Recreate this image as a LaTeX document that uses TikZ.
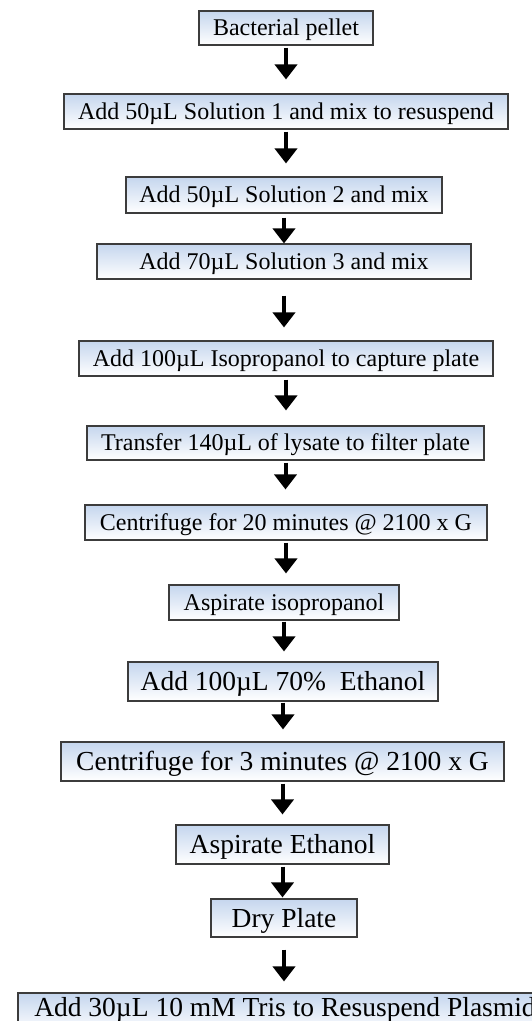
\documentclass[tikz,border=0pt]{standalone}
\usepackage{fontspec}
\setmainfont{Liberation Serif}
\usetikzlibrary{arrows.meta}
\definecolor{boxtop}{RGB}{197,214,238}
\definecolor{boxline}{RGB}{60,60,60}
\tikzset{
  stepbox/.style={draw=boxline, line width=1.1pt, top color=boxtop, bottom color=white,
    inner sep=0pt, text depth=0pt, anchor=center},
  smallbox/.style={stepbox, text height=15.9pt, font=\fontsize{24}{28}\selectfont},
  bigbox/.style={stepbox, text height=18.2pt, font=\fontsize{27.5}{32}\selectfont},
  flow/.style={line width=4pt, -{Triangle[width=22pt,length=15pt]}}
}
\begin{document}
\begin{tikzpicture}[x=1pt,y=1pt]
\useasboundingbox (0,0) rectangle (532,-1021);
\clip (0,0) rectangle (532,-1021);
\node[smallbox, minimum width=174, minimum height=34] (b1) at (286,-28) {Bacterial pellet};
\node[smallbox, minimum width=444, minimum height=35] (b2) at (286,-111.5) {Add 50µL Solution 1 and mix to resuspend};
\node[smallbox, minimum width=316, minimum height=36] (b3) at (284,-195) {Add 50µL Solution 2 and mix};
\node[smallbox, minimum width=374, minimum height=35] (b4) at (284,-261.5) {Add 70µL Solution 3 and mix};
\node[smallbox, minimum width=414, minimum height=35] (b5) at (286,-358.5) {Add 100µL Isopropanol to capture plate};
\node[smallbox, minimum width=397, minimum height=34] (b6) at (285.5,-443) {Transfer 140µL of lysate to filter plate};
\node[smallbox, minimum width=402, minimum height=35] (b7) at (286,-522.5) {Centrifuge for 20 minutes @ 2100 x G};
\node[smallbox, minimum width=230, minimum height=35] (b8) at (284,-602.5) {Aspirate isopropanol};
\node[bigbox, minimum width=310, minimum height=39] (b9) at (283,-681.5) {Add 100µL 70\%\ \ Ethanol};
\node[bigbox, minimum width=443, minimum height=39] (b10) at (282.5,-761.5) {Centrifuge for 3 minutes @ 2100 x G};
\node[bigbox, minimum width=213, minimum height=39] (b11) at (282.5,-844.5) {Aspirate Ethanol};
\node[bigbox, minimum width=146, minimum height=38] (b12) at (284,-918) {Dry Plate};
\node[bigbox, text depth=11pt, minimum width=534, minimum height=39] (b13) at (285,-1012.5) {Add 30µL 10 mM Tris to Resuspend Plasmid};
\draw[flow, shorten <=2pt, shorten >=14pt] (b1.south) -- (b1.south |- b2.north);
\draw[flow, shorten <=2pt, shorten >=13pt] (b2.south) -- (b2.south |- b3.north);
\draw[flow, shorten <=4pt, shorten >=0pt] (b3.south) -- (b3.south |- b4.north);
\draw[flow, shorten <=16pt, shorten >=13pt] (b4.south) -- (b4.south |- b5.north);
\draw[flow, shorten <=3pt, shorten >=15pt] (b5.south) -- (b5.south |- b6.north);
\draw[flow, shorten <=2pt, shorten >=15pt] (b6.south) -- (b6.south |- b7.north);
\draw[flow, shorten <=2pt, shorten >=11pt] (b7.south) -- (b7.south |- b8.north);
\draw[flow, shorten <=1pt, shorten >=10pt] (b8.south) -- (b8.south |- b9.north);
\draw[flow, shorten <=1pt, shorten >=12pt] (b9.south) -- (b9.south |- b10.north);
\draw[flow, shorten <=2pt, shorten >=10pt] (b10.south) -- (b10.south |- b11.north);
\draw[flow, shorten <=2pt, shorten >=1pt] (b11.south) -- (b11.south |- b12.north);
\draw[flow, shorten <=12pt, shorten >=11pt] (b12.south) -- (b12.south |- b13.north);
\end{tikzpicture}
\end{document}
